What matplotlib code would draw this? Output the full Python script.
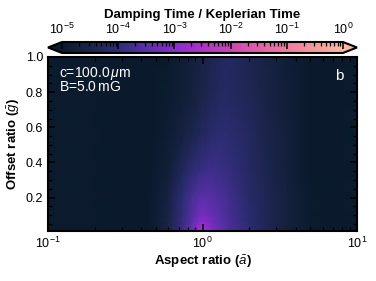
import numpy as np
import matplotlib
matplotlib.use("Agg")
import matplotlib.pyplot as plt
from matplotlib.colors import LinearSegmentedColormap, LogNorm
from matplotlib.ticker import LogLocator, MultipleLocator

plt.rcParams['font.family'] = ['Liberation Sans', 'DejaVu Sans']
plt.rcParams['mathtext.fontset'] = 'custom'
plt.rcParams['mathtext.rm'] = 'Liberation Sans'
plt.rcParams['mathtext.it'] = 'Liberation Sans:italic'
plt.rcParams['mathtext.bf'] = 'Liberation Sans:bold'

# aspect ratio grid (x), offset ratio grid (y)
aspect = [0.1, 0.2, 0.3, 0.45, 0.6, 0.75, 0.85, 0.95, 1.0, 1.05, 1.15, 1.3,
          1.5, 2.0, 2.5, 3.5, 5.0, 7.0, 10.0]
offset = [0.01, 0.03, 0.06, 0.1, 0.2, 0.35, 0.55, 0.75, 1.0]

# log10(damping time / keplerian time), rows follow `offset`
log_ratio = [
    [-4.95, -4.97, -5.0, -5.1, -4.5, -3.8, -3.3, -2.65, -2.3, -2.65, -3.1, -3.4, -3.65, -4.05, -4.3, -4.65, -4.95, -5.0, -4.95],
    [-4.95, -4.97, -5.0, -5.1, -4.5, -3.85, -3.4, -2.85, -2.6, -2.8, -3.15, -3.42, -3.68, -4.08, -4.32, -4.65, -4.95, -5.0, -4.95],
    [-4.95, -4.97, -5.0, -5.1, -4.52, -3.88, -3.5, -3.1, -2.95, -3.05, -3.27, -3.48, -3.7, -4.1, -4.33, -4.65, -4.95, -5.0, -4.95],
    [-4.95, -4.97, -5.0, -5.1, -4.55, -3.92, -3.6, -3.3, -3.22, -3.25, -3.37, -3.55, -3.75, -4.1, -4.35, -4.65, -4.95, -5.0, -4.95],
    [-4.95, -4.97, -5.0, -5.1, -4.6, -4.0, -3.7, -3.52, -3.48, -3.48, -3.54, -3.65, -3.8, -4.15, -4.35, -4.65, -4.95, -5.0, -4.95],
    [-4.95, -4.97, -5.0, -5.1, -4.75, -4.28, -4.05, -3.9, -3.85, -3.82, -3.8, -3.84, -3.93, -4.2, -4.4, -4.7, -5.0, -5.0, -4.95],
    [-4.95, -4.97, -5.0, -5.1, -4.85, -4.6, -4.45, -4.3, -4.25, -4.2, -4.1, -4.05, -4.07, -4.25, -4.45, -4.7, -5.0, -5.0, -4.95],
    [-4.95, -4.97, -5.0, -5.1, -4.9, -4.75, -4.65, -4.5, -4.45, -4.4, -4.3, -4.22, -4.2, -4.35, -4.5, -4.75, -5.05, -5.0, -4.95],
    [-4.95, -4.97, -5.0, -5.1, -4.95, -4.8, -4.7, -4.6, -4.55, -4.5, -4.4, -4.3, -4.25, -4.4, -4.55, -4.8, -5.05, -5.0, -4.95],
]

cmap_colors = ['#0a1a2c', '#1a2448', '#2e2d78', '#5a2fa8', '#8a2bcf', '#ad33c6',
               '#cc45b5', '#e35fa8', '#f07a9e', '#f6989c', '#fab8a0']
cmap = LinearSegmentedColormap.from_list('damp', cmap_colors)

fig = plt.figure(figsize=(3.76, 2.81), dpi=100)
W, H = 376, 281
ax = fig.add_axes([48 / W, (H - 231) / H, 309 / W, 174 / H])
cax = fig.add_axes([48 / W, (H - 53) / H, 309 / W, 11 / H])

A, G = np.meshgrid(aspect, offset)
Z = 10.0 ** np.array(log_ratio)
norm = LogNorm(vmin=1e-5, vmax=1e0)
m = ax.pcolormesh(A, G, Z, cmap=cmap, norm=norm, shading='gouraud', rasterized=True)
ax.set_xscale('log')
ax.set_xlim(0.1, 10)
ax.set_ylim(0.01, 1.0)

ax.yaxis.set_major_locator(MultipleLocator(0.2))
ax.yaxis.set_minor_locator(MultipleLocator(0.05))
ax.xaxis.set_minor_locator(LogLocator(base=10, subs=np.arange(2, 10), numticks=20))
ax.tick_params(which='both', direction='in', top=True, right=True, labelsize=9, colors='black')
ax.tick_params(which='major', length=5, width=1.1)
ax.tick_params(which='minor', length=2.8, width=0.9)
for s in ax.spines.values():
    s.set_linewidth(1.5)

ax.set_xlabel(r'Aspect ratio ($\bar{a}$)', fontsize=9.5, fontweight='bold', labelpad=2)
ax.set_ylabel(r'Offset ratio ($\bar{g}$)', fontsize=9.5, fontweight='bold', labelpad=3)

ax.text(0.035, 0.955, r'c=100.0$\,\mu$m', transform=ax.transAxes, color='white',
        fontsize=10, va='top', ha='left')
ax.text(0.035, 0.865, r'B=5.0$\,$mG', transform=ax.transAxes, color='white',
        fontsize=10, va='top', ha='left')
ax.text(0.955, 0.93, 'b', transform=ax.transAxes, color='white',
        fontsize=11, va='top', ha='right')

cb = fig.colorbar(m, cax=cax, orientation='horizontal', extend='both')
cax.xaxis.set_ticks_position('top')
cax.xaxis.set_label_position('top')
cb.set_label('Damping Time / Keplerian Time', fontsize=9.5, fontweight='bold', labelpad=3)
cax.tick_params(which='both', direction='in', labelsize=9, top=True, bottom=False)
cax.tick_params(which='major', length=5, width=1.1)
cax.tick_params(which='minor', length=2.8, width=0.9)
cb.outline.set_linewidth(1.5)

fig.savefig('out.png', dpi=100)
